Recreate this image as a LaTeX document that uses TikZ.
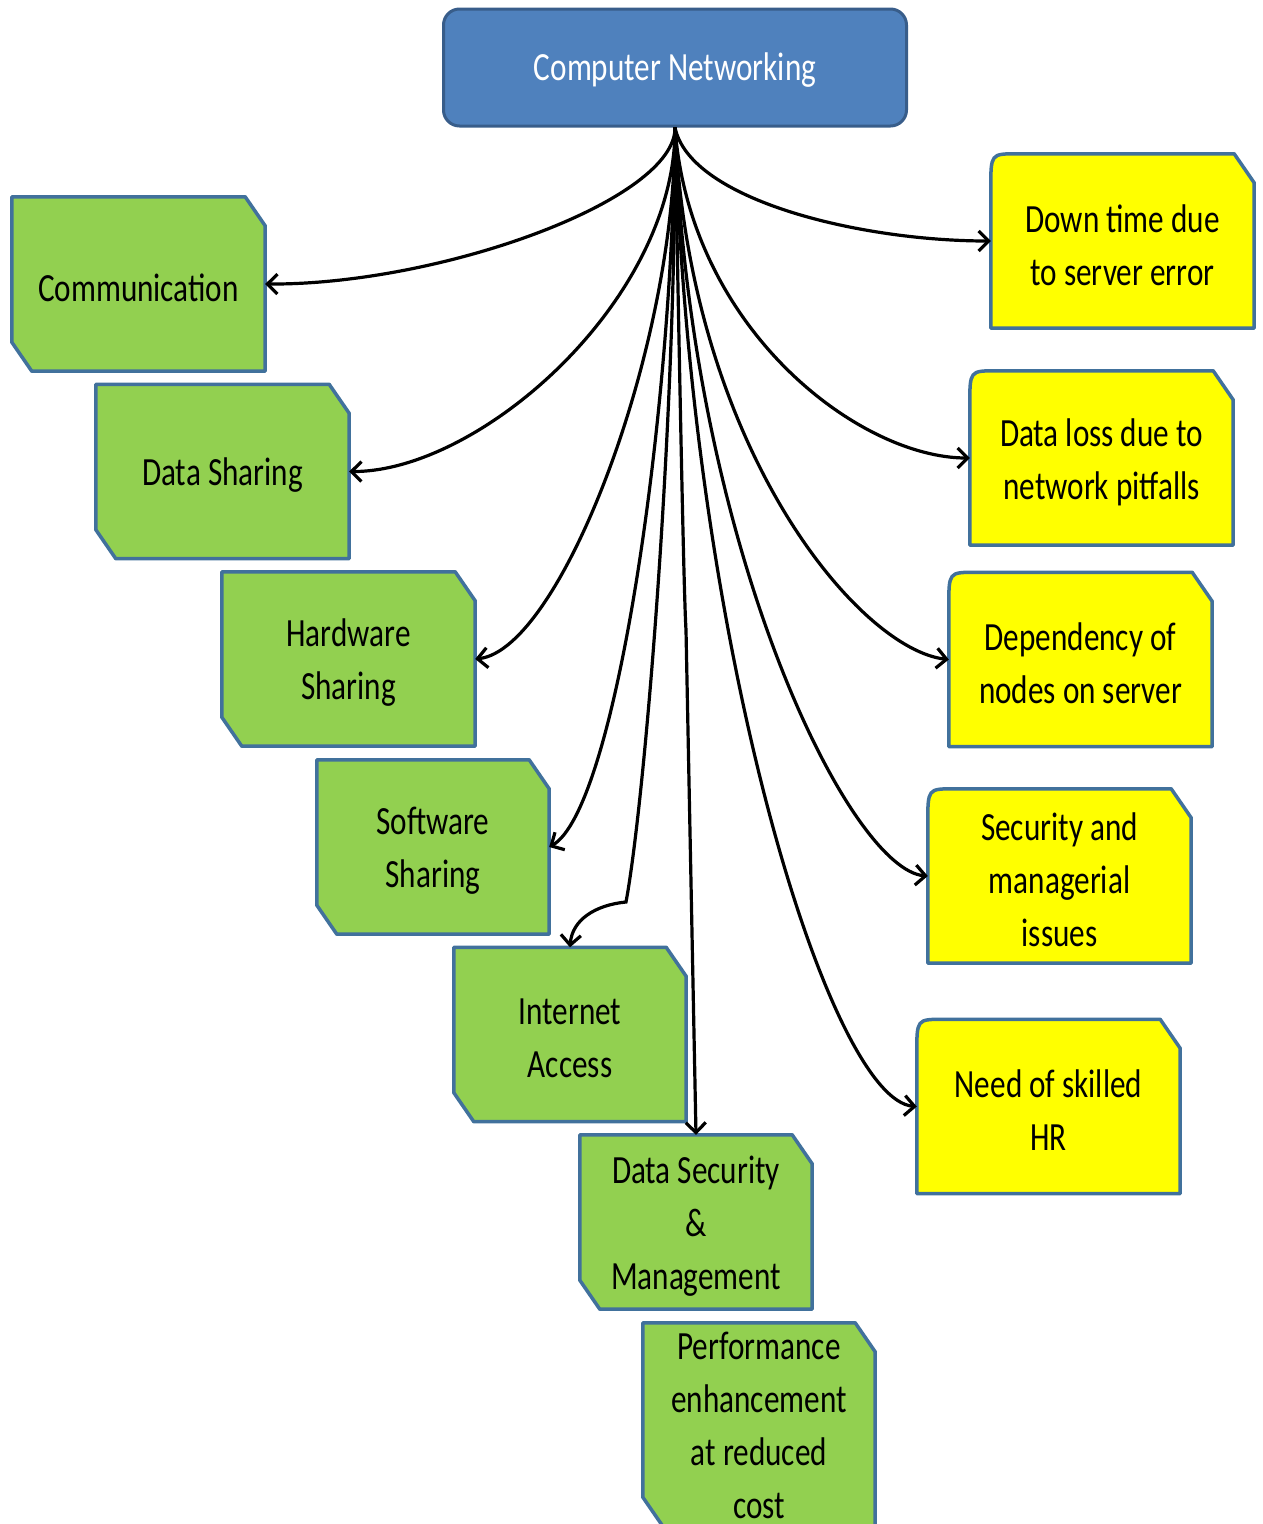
\documentclass[tikz,border=0pt]{standalone}
\usepackage{fontspec}
\setmainfont[FakeStretch=0.78]{Carlito}
\usetikzlibrary{arrows.meta,backgrounds}
\definecolor{hubblue}{HTML}{4F81BD}
\definecolor{hubedge}{HTML}{385D8A}
\definecolor{prosgreen}{HTML}{92D050}
\definecolor{consyellow}{HTML}{FFFF00}
\definecolor{boxedge}{HTML}{41719C}
\begin{document}
\begin{tikzpicture}[x=1pt,y=-1pt,
  labeltext/.style={font=\fontsize{40}{53}\selectfont, align=center, inner sep=0pt, text=black},
  boxtext/.style={label={[labeltext, yshift=-4pt]center:{#1}}},
  hub/.style={draw=hubedge, fill=hubblue, line width=3pt,
    rounded corners=16pt, minimum width=463pt, minimum height=117pt,
    label={[labeltext, text=white, yshift=-3pt]center:{#1}}},
  pro/.style={inner sep=0pt, minimum width=#1, minimum height=174pt},
  con/.style={inner sep=0pt, minimum width=263pt, minimum height=174pt},
  boxline/.style={draw=boxedge, line width=3.5pt, line join=round},
  link/.style={draw=black, line width=3.2pt, -{Straight Barb[length=10pt,width=20pt,line width=3.2pt]}},
]
\useasboundingbox (0,0) rectangle (1262,1524);

% hub
\node[hub={Computer Networking}] (top) at (675,67.5) {};

% advantages
\node[pro=253pt, boxtext={Communication}]  (comm)   at (138.5,284)   {};
\node[pro=253pt, boxtext={Data Sharing}]   (dshare) at (222.5,471.5) {};
\node[pro=253pt, boxtext={Hardware\\Sharing}] (hshare) at (348.5,659) {};
\node[pro=232pt, boxtext={Software\\Sharing}] (sshare) at (433,847)   {};
\node[pro=232pt, boxtext={Internet\\Access}]  (inet)   at (570,1034.5) {};
\node[pro=232pt, boxtext={Data Security\\\&\\Management}] (dsec) at (696,1222) {};
\node[pro=232pt, minimum height=203pt,
      label={[labeltext, yshift=-1pt]center:{Performance\\enhancement\\at reduced\\cost}}]
      (perf) at (759,1424.5) {};

% disadvantages
\node[con, boxtext={Down time due\\to server error}]   (down) at (1122.5,241)   {};
\node[con, boxtext={Data loss due to\\network pitfalls}] (loss) at (1101.5,458) {};
\node[con, boxtext={Dependency of\\nodes on server}]  (dep)  at (1080.5,659.5) {};
\node[con, boxtext={Security and\\managerial\\issues}] (sec) at (1059.5,876)   {};
\node[con, boxtext={Need of skilled\\HR}]             (hr)   at (1048.5,1106.5) {};

% box outlines behind the labels
\begin{scope}[on background layer]
\foreach \n in {comm,dshare,hshare,sshare,inet,dsec,perf}
  \path[boxline, fill=prosgreen] (\n.north west) -- ([xshift=-20pt]\n.north east)
    -- ([yshift=-29pt]\n.north east) -- (\n.south east)
    -- ([xshift=20pt]\n.south west) -- ([yshift=29pt]\n.south west) -- cycle;
\foreach \n in {down,loss,dep,sec,hr}
  \path[boxline, fill=consyellow] (\n.south west) -- ([yshift=-34pt]\n.north west)
    .. controls (\n.north west) .. ([xshift=26pt]\n.north west)
    -- ([xshift=-20pt]\n.north east) -- ([yshift=-29pt]\n.north east)
    -- (\n.south east) -- cycle;
\end{scope}

% connectors to the advantages
\draw[link] (top.south) .. controls (676,200) and (440,285) .. (comm.east);
\draw[link] (top.south) .. controls (676,300) and (480,472) .. (dshare.east);
\draw[link] (top.south) .. controls (676,350) and (560,650) .. (hshare.east);
\draw[link] (top.south) .. controls (672,420) and (615,810) .. (sshare.east);
\draw[link] (top.south) .. controls (676,420) and (645,800) .. (626,902)
  .. controls (595,905) and (572,920) .. (inet.north);
\draw[link] (top.south) .. controls (680,400) and (684,600) .. (686,630) -- (dsec.north);

% connectors to the disadvantages
\draw[link] (top.south) .. controls (690,200) and (860,241) .. (down.west);
\draw[link] (top.south) .. controls (690,330) and (860,458) .. (loss.west);
\draw[link] (top.south) .. controls (690,450) and (860,650) .. (dep.west);
\draw[link] (top.south) .. controls (690,550) and (850,870) .. (sec.west);
\draw[link] (top.south) .. controls (690,650) and (830,1100) .. (hr.west);
\end{tikzpicture}
\end{document}
